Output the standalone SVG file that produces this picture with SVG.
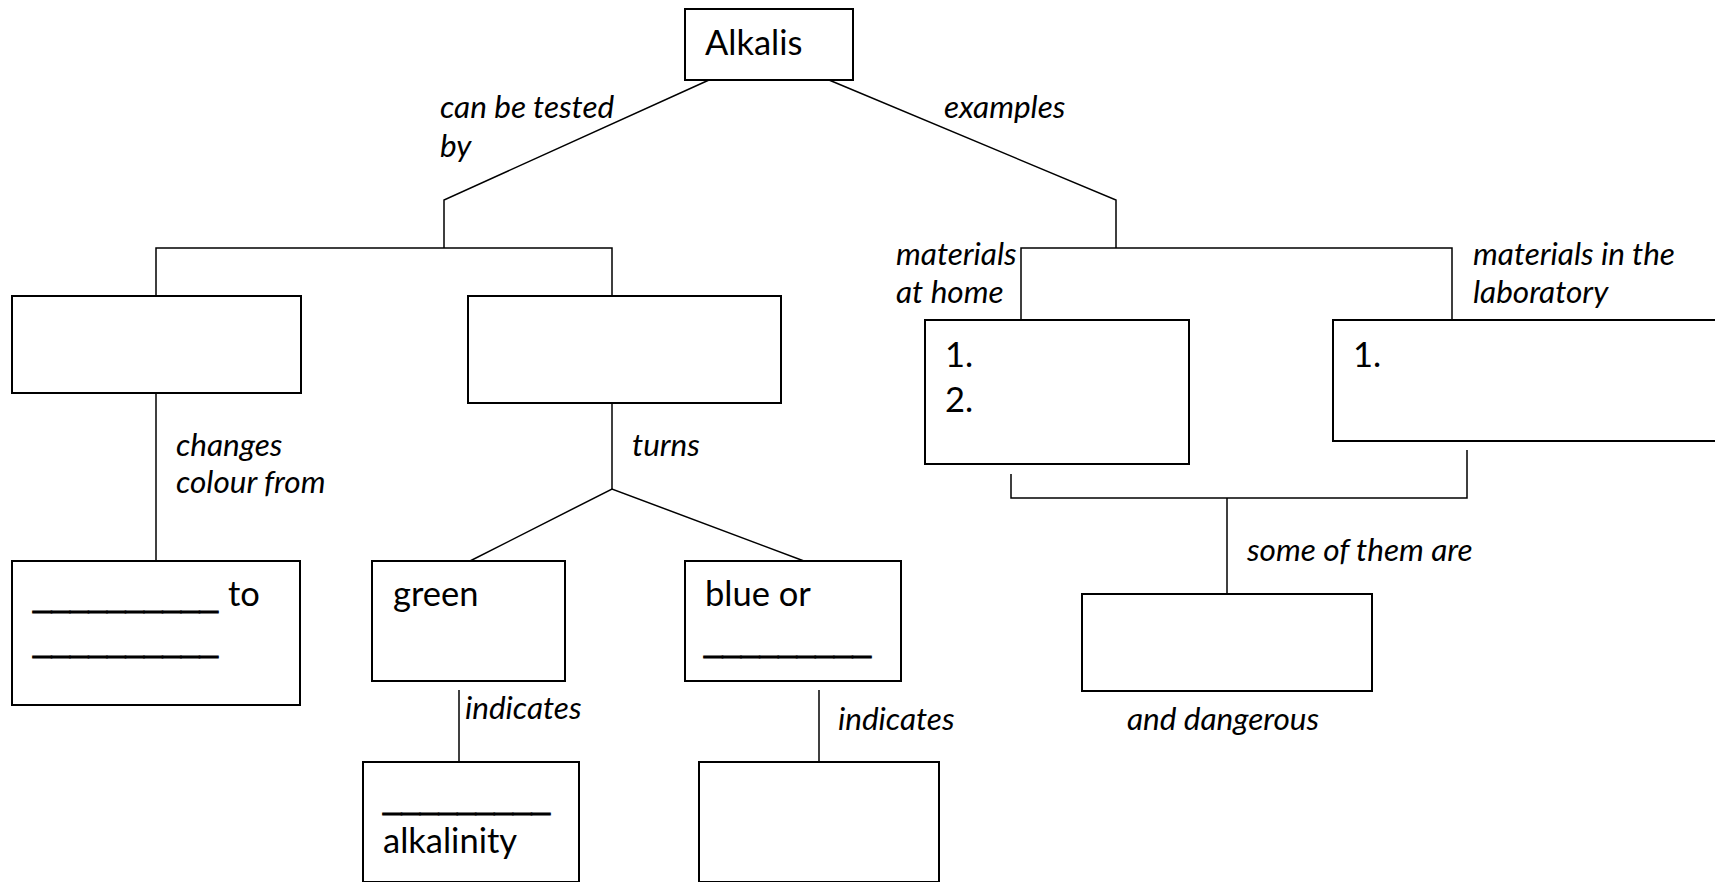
<svg xmlns="http://www.w3.org/2000/svg" width="1715" height="882" viewBox="0 0 1715 882">
<style>
.box{fill:#fff;stroke:#000;stroke-width:2}
.ln{fill:none;stroke:#000;stroke-width:1.5}
.t{font-family:Lato,"Liberation Sans",sans-serif;font-size:34.5px;fill:#000}
.u{font-family:"Liberation Sans",Arial,sans-serif;font-size:34px;fill:#000;stroke:#000;stroke-width:0.8}
.l{font-family:Lato,"Liberation Sans",sans-serif;font-size:31.5px;font-style:italic;fill:#000}
</style>
<rect width="1715" height="882" fill="#fff"/>
<g id="connectors">
<polyline class="ln" points="709,80 444,200 444,248"/>
<polyline class="ln" points="156,296 156,248 612,248 612,296"/>
<polyline class="ln" points="829,80 1116,200 1116,248"/>
<polyline class="ln" points="1021,320 1021,248 1452,248 1452,320"/>
<line class="ln" x1="156" y1="393" x2="156" y2="561"/>
<polyline class="ln" points="612,403 612,489"/>
<polyline class="ln" points="470,561 612,489 804,561"/>
<line class="ln" x1="459" y1="690" x2="459" y2="762"/>
<line class="ln" x1="819" y1="690" x2="819" y2="762"/>
<polyline class="ln" points="1011,474 1011,498 1467,498 1467,450"/>
<line class="ln" x1="1227" y1="498" x2="1227" y2="594"/>
<text class="l" x="440" y="118">can be tested</text>
<text class="l" x="440" y="157">by</text>
<text class="l" x="944" y="118">examples</text>
<text class="l" x="896" y="265">materials</text>
<text class="l" x="896" y="303">at home</text>
<text class="l" x="1473" y="265">materials in the</text>
<text class="l" x="1473" y="303">laboratory</text>
<text class="l" x="176" y="456">changes</text>
<text class="l" x="176" y="493">colour from</text>
<text class="l" x="632" y="456">turns</text>
<text class="l" x="1247" y="561">some of them are</text>
<text class="l" x="465" y="719">indicates</text>
<text class="l" x="838" y="730">indicates</text>
<text class="l" x="1127" y="730">and dangerous</text>
</g>
<g id="alkalis">
<rect class="box" x="685" y="9" width="168" height="71"/>
<text class="t" x="705" y="55">Alkalis</text>
</g>
<g id="test1">
<rect class="box" x="12" y="296" width="289" height="97"/>
</g>
<g id="test2">
<rect class="box" x="468" y="296" width="313" height="107"/>
</g>
<g id="home">
<rect class="box" x="925" y="320" width="264" height="144"/>
<text class="t" x="945" y="367">1.</text>
<text class="t" x="945" y="412">2.</text>
</g>
<g id="lab">
<rect class="box" x="1333" y="320" width="420" height="121"/>
<text class="t" x="1353" y="367">1.</text>
</g>
<g id="colour">
<rect class="box" x="12" y="561" width="288" height="144"/>
<text class="u" x="33" y="606" textLength="185" lengthAdjust="spacingAndGlyphs">__________</text>
<text class="t" x="228" y="606">to</text>
<text class="u" x="33" y="651" textLength="185" lengthAdjust="spacingAndGlyphs">__________</text>
</g>
<g id="green">
<rect class="box" x="372" y="561" width="193" height="120"/>
<text class="t" x="393" y="606">green</text>
</g>
<g id="blue">
<rect class="box" x="685" y="561" width="216" height="120"/>
<text class="t" x="705" y="606">blue or</text>
<text class="u" x="704" y="651" textLength="167" lengthAdjust="spacingAndGlyphs">_________</text>
</g>
<g id="alkalinity">
<rect class="box" x="363" y="762" width="216" height="120"/>
<text class="u" x="383" y="808" textLength="167" lengthAdjust="spacingAndGlyphs">_________</text>
<text class="t" x="383" y="853">alkalinity</text>
</g>
<g id="blank">
<rect class="box" x="699" y="762" width="240" height="120"/>
</g>
<g id="dangerous">
<rect class="box" x="1082" y="594" width="290" height="97"/>
</g>
</svg>
